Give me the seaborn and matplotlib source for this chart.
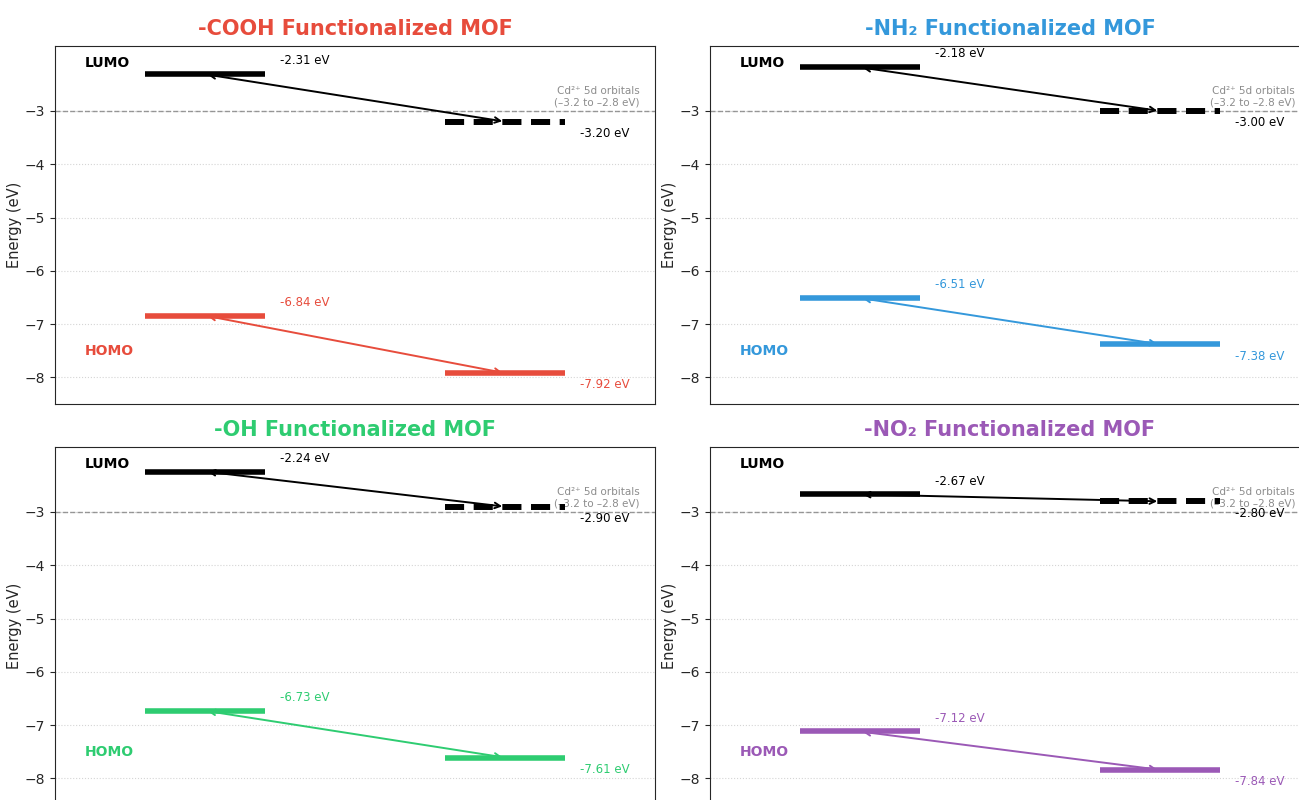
import numpy as np
import pandas as pd
import matplotlib
matplotlib.use("Agg")
import matplotlib.pyplot as plt
import seaborn as sns

sns.set_style("ticks")
plt.rcParams['font.family'] = ['DejaVu Sans']

# ---- data ----
groups = ["-COOH", "-NH₂", "-OH", "-NO₂"]
colors = ["#e74c3c", "#3498db", "#2ecc71", "#9b59b6"]
lumo_ligand = [-2.31, -2.18, -2.24, -2.67]
lumo_mof = [-3.20, -3.00, -2.90, -2.80]
homo_ligand = [-6.84, -6.51, -6.73, -7.12]
homo_mof = [-7.92, -7.38, -7.61, -7.84]
cd_level = -3.0
cd_label = "Cd²⁺ 5d orbitals\n(–3.2 to –2.8 eV)"

W, H = 1299, 800
fig = plt.figure(figsize=(W / 100, H / 100), dpi=100)

# axes rectangles in pixels: left, top, width, height
rects = [(55, 46), (710, 46), (55, 447), (710, 447)]
aw, ah = 600, 358

x_left, x_right, half = 1.0, 3.0, 0.4

for i, g in enumerate(groups):
    lx, ty = rects[i]
    ax = fig.add_axes([lx / W, 1 - (ty + ah) / H, aw / W, ah / H])
    c = colors[i]
    ax.set_xlim(0, 4)
    ax.set_ylim(-8.5, -1.78)
    ax.yaxis.grid(True, linestyle=':', color='#d5d5d5', linewidth=0.8)
    ax.set_axisbelow(True)

    ax.axhline(cd_level, color='gray', linestyle='--', linewidth=1, alpha=0.8, zorder=1)
    ax.text(3.9, -2.93, cd_label, ha='right', va='bottom', fontsize=7.5,
            color='gray', alpha=0.9, linespacing=1.1)

    # levels
    ax.hlines(lumo_ligand[i], x_left - half, x_left + half, color='black', linewidth=4, zorder=3)
    ax.hlines(lumo_mof[i], x_right - half, x_right + half, color='black', linewidth=4.3,
              linestyles=(0, (3.2, 1.6)), zorder=3)
    ax.hlines(homo_ligand[i], x_left - half, x_left + half, color=c, linewidth=4, zorder=3)
    ax.hlines(homo_mof[i], x_right - half, x_right + half, color=c, linewidth=4, zorder=3)

    # arrows
    ax.annotate('', xy=(x_right, lumo_mof[i]), xytext=(x_left, lumo_ligand[i]),
                arrowprops=dict(arrowstyle='<->', color='black', lw=1.4), zorder=2)
    ax.annotate('', xy=(x_right, homo_mof[i]), xytext=(x_left, homo_ligand[i]),
                arrowprops=dict(arrowstyle='<->', color=c, lw=1.4), zorder=2)

    # value labels
    ax.text(1.5, lumo_ligand[i] + 0.25, f"{lumo_ligand[i]:.2f} eV", fontsize=8.5,
            color='black', ha='left', va='center')
    ax.text(3.5, lumo_mof[i] - 0.22, f"{lumo_mof[i]:.2f} eV", fontsize=8.5,
            color='black', ha='left', va='center')
    ax.text(1.5, homo_ligand[i] + 0.25, f"{homo_ligand[i]:.2f} eV", fontsize=8.5,
            color=c, ha='left', va='center')
    ax.text(3.5, homo_mof[i] - 0.22, f"{homo_mof[i]:.2f} eV", fontsize=8.5,
            color=c, ha='left', va='center')

    ax.text(0.2, -2.1, "LUMO", fontsize=10, fontweight='bold', color='black',
            ha='left', va='center')
    ax.text(0.2, -7.5, "HOMO", fontsize=10, fontweight='bold', color=c,
            ha='left', va='center')

    ax.set_xticks([])
    ax.set_yticks([-3, -4, -5, -6, -7, -8])
    ax.tick_params(axis='y', labelsize=10)
    ax.set_ylabel("Energy (eV)", fontsize=10.5, labelpad=2)
    ax.set_title(f"{g} Functionalized MOF", fontsize=15, fontweight='bold', color=c, pad=8)

fig.savefig("out.png", dpi=100)
